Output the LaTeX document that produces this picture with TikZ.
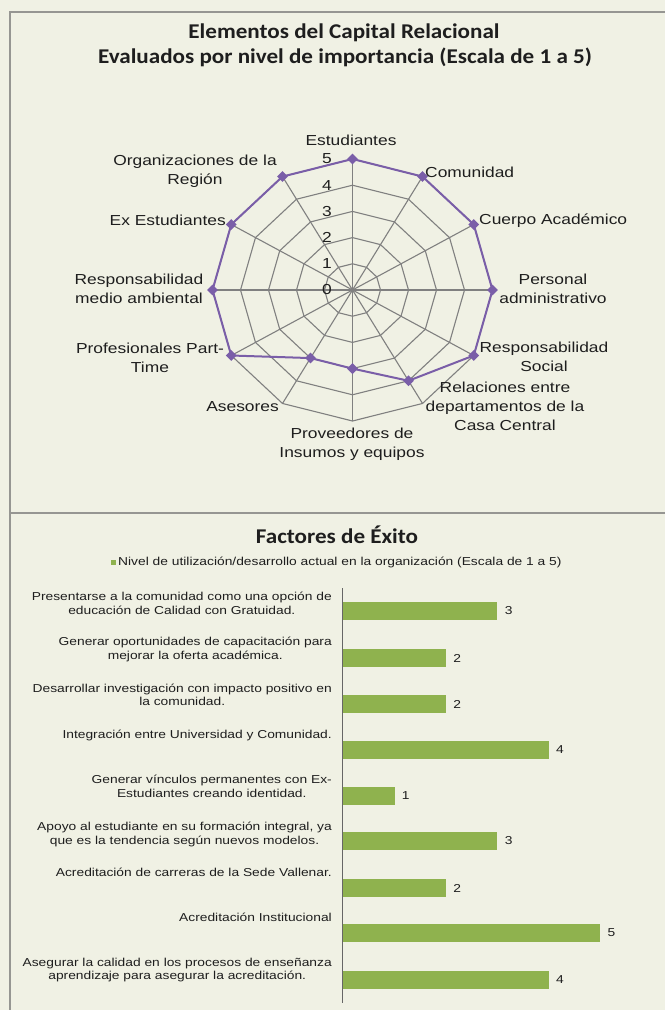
\documentclass[tikz,border=0pt]{standalone}
\usepackage{fontspec}
\usetikzlibrary{shapes.geometric}
\newfontfamily\lbl[FakeStretch=1.2]{Liberation Sans}
\newfontfamily\ttl[FakeStretch=1.1]{Carlito}
\definecolor{bg}{RGB}{240,241,228}
\definecolor{frm}{RGB}{150,150,146}
\definecolor{grd}{RGB}{128,128,128}
\definecolor{vio}{RGB}{122,94,168}
\definecolor{barc}{RGB}{143,178,78}
\definecolor{txt}{RGB}{30,30,30}
\begin{document}
\begin{tikzpicture}[x=1pt,y=-1pt,
  title/.style={font=\ttl\bfseries\fontsize{21}{24}\selectfont, text=txt, align=center, inner sep=0},
  rlab/.style={font=\lbl\fontsize{14.5}{19}\selectfont, text=txt, align=center, inner sep=0},
  tick/.style={font=\lbl\fontsize{14.5}{19}\selectfont, text=txt, anchor=east, inner sep=0},
  blab/.style={font=\lbl\fontsize{11.5}{13.5}\selectfont, text=txt, align=center, anchor=east, inner sep=0},
  bval/.style={font=\lbl\fontsize{11.5}{13.5}\selectfont, text=txt, inner sep=0},
  gridline/.style={draw=grd, line width=1.1pt},
  frameline/.style={draw=frm, line width=2pt},
  marker/.style={diamond, fill=vio, inner sep=0, minimum size=11pt},
  barbox/.style={fill=barc, draw=none, inner sep=0, minimum height=18pt, anchor=west}]
\useasboundingbox (0,0) rectangle (665,1010);
\fill[bg] (0,0) rectangle (665,1010);
% frame
\draw[frameline] (10,1010) -- (10,12) -- (665,12);
\draw[frameline] (10,513) -- (665,513);
% titles
\node[title] (t1) at (344,33) {Elementos del Capital Relacional};
\node[title] (t2) at (345,57) {Evaluados por nivel de importancia (Escala de 1 a 5)};
% radar
\begin{scope}[shift={(352.5,290)}, x=28pt, y=26.2pt]
  \foreach \rr in {1,...,5}
    \draw[gridline] (90:\rr) \foreach \a in {60,30,...,-240} { -- (\a:\rr) } -- cycle;
  \foreach \a in {90,60,...,-240}
    \draw[gridline] (0,0) -- (\a:5);
  \foreach \a/\v [count=\i] in {90/5,60/5,30/5,0/5,-30/5,-60/4,-90/3,-120/3,-150/5,180/5,150/5,120/5}
    \coordinate (p\i) at (\a:\v);
  \draw[vio, line width=2pt, line join=round]
    (p1) -- (p2) -- (p3) -- (p4) -- (p5) -- (p6) -- (p7) -- (p8) -- (p9) -- (p10) -- (p11) -- (p12) -- cycle;
  \foreach \i in {1,...,12}
    \node[marker] (m\i) at (p\i) {};
\end{scope}
\foreach \k in {0,...,5}
  \node[tick] (tk\k) at (332,{290-26.2*\k}) {\k};
% radar labels
\node[rlab] (lE) at (351,140) {Estudiantes};
\node[rlab, anchor=west] (lC) at (425,172) {Comunidad};
\node[rlab, anchor=west] (lCA) at (479,221) {Cuerpo Académico};
\node[rlab] (lPA) at (553,289) {Personal\\administrativo};
\node[rlab] (lRS) at (544,357) {Responsabilidad\\Social};
\node[rlab] (lRD) at (505,406) {Relaciones entre\\departamentos de la\\Casa Central};
\node[rlab] (lPr) at (352,444) {Proveedores de\\Insumos y equipos};
\node[rlab, anchor=east] (lAs) at (279,407) {Asesores};
\node[rlab] (lPT) at (150,358) {Profesionales Part-\\Time};
\node[rlab] (lRM) at (139,288.5) {Responsabilidad\\medio ambiental};
\node[rlab, anchor=east] (lEx) at (226,220) {Ex Estudiantes};
\node[rlab] (lOR) at (195,171) {Organizaciones de la\\Región};
% bar chart
\node[title] (t3) at (337,535) {Factores de Éxito};
\node[fill=barc, inner sep=0, minimum size=5pt] (lg) at (113,562) {};
\node[bval, anchor=west] (lgt) at (118,562) {Nivel de utilización/desarrollo actual en la organización (Escala de 1 a 5)};
\draw[draw=grd!80!black, line width=1.4pt] (342.5,588) -- (342.5,1003);
\foreach \yc/\v [count=\i] in {611/3,658/2,704/2,749.5/4,796/1,841/3,888/2,933/5,979.5/4} {
  \node[barbox, minimum width={51.4*\v}] (b\i) at (343,\yc) {};
  \node[bval] (v\i) at ([xshift=11pt]b\i.east) {\v};
}
\node[blab] (c1) at (332,603.5) {Presentarse a la comunidad como una opción de\\educación de Calidad con Gratuidad.};
\node[blab] (c2) at (332,649.5) {Generar oportunidades de capacitación para\\mejorar la oferta académica.};
\node[blab] (c3) at (332,695) {Desarrollar investigación con impacto positivo en\\la comunidad.};
\node[blab] (c4) at (332,735) {Integración entre Universidad y Comunidad.};
\node[blab] (c5) at (332,786.5) {Generar vínculos permanentes con Ex-\\Estudiantes creando identidad.};
\node[blab] (c6) at (332,834.5) {Apoyo al estudiante en su formación integral, ya\\que es la tendencia según nuevos modelos.};
\node[blab] (c7) at (332,872) {Acreditación de carreras de la Sede Vallenar.};
\node[blab] (c8) at (332,917) {Acreditación Institucional};
\node[blab] (c9) at (332,970) {Asegurar la calidad en los procesos de enseñanza\\aprendizaje para asegurar la acreditación.};
\end{tikzpicture}
\end{document}
